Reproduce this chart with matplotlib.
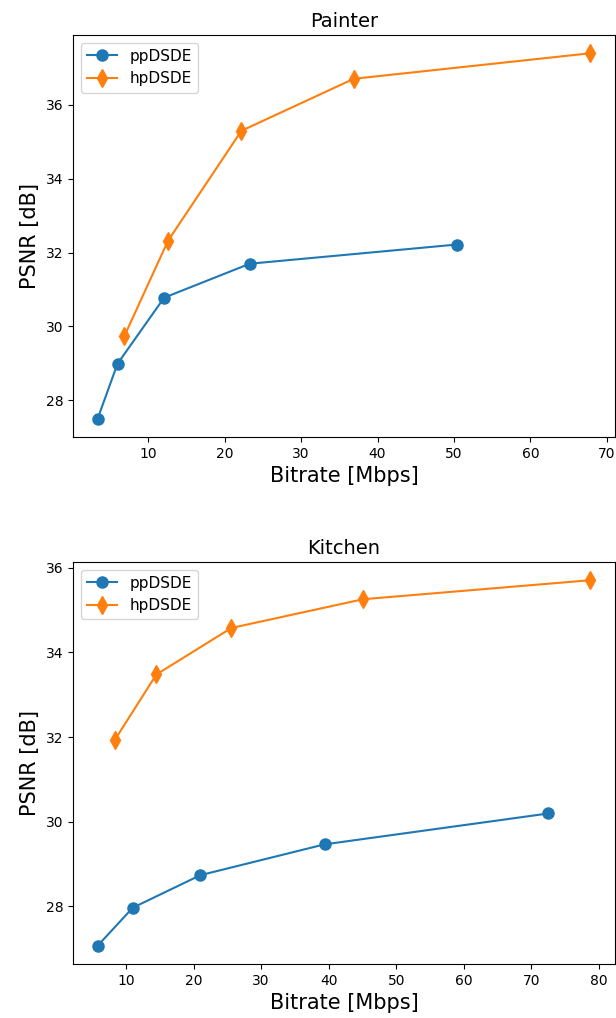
import matplotlib
matplotlib.use('Agg')
from matplotlib import pyplot as plt

# Painter
painter_pp_rate = [3.4, 6.0, 12.1, 23.3, 50.4]
painter_pp_psnr = [27.50, 28.99, 30.78, 31.70, 32.22]
painter_hp_rate = [6.9, 12.6, 22.2, 36.9, 67.8]
painter_hp_psnr = [29.74, 32.32, 35.30, 36.71, 37.40]

# Kitchen
kitchen_pp_rate = [5.8, 11.0, 21.0, 39.4, 72.5]
kitchen_pp_psnr = [27.06, 27.96, 28.73, 29.46, 30.19]
kitchen_hp_rate = [8.3, 14.5, 25.6, 45.1, 78.7]
kitchen_hp_psnr = [31.92, 33.48, 34.58, 35.26, 35.71]

titles = ['Painter', 'Kitchen']
data = [(painter_pp_rate, painter_pp_psnr, painter_hp_rate, painter_hp_psnr),
        (kitchen_pp_rate, kitchen_pp_psnr, kitchen_hp_rate, kitchen_hp_psnr)]

fig = plt.figure(figsize=(6.16, 10.18), dpi=100)
boxes = [[0.1185, 0.5707, 0.8795, 0.3949], [0.1185, 0.053, 0.8795, 0.395]]

for box, title, (pr, pp, hr, hp) in zip(boxes, titles, data):
    ax = fig.add_axes(box)
    ax.plot(pr, pp, marker='o', markersize=8, label='ppDSDE')
    ax.plot(hr, hp, marker='d', markersize=9, label='hpDSDE')
    ax.set_title(title, fontsize=14)
    ax.set_xlabel('Bitrate [Mbps]', fontsize=15)
    ax.set_ylabel('PSNR [dB]', fontsize=15)
    ax.legend(loc='upper left', fontsize=11)

fig.savefig('out.png', dpi=100)
